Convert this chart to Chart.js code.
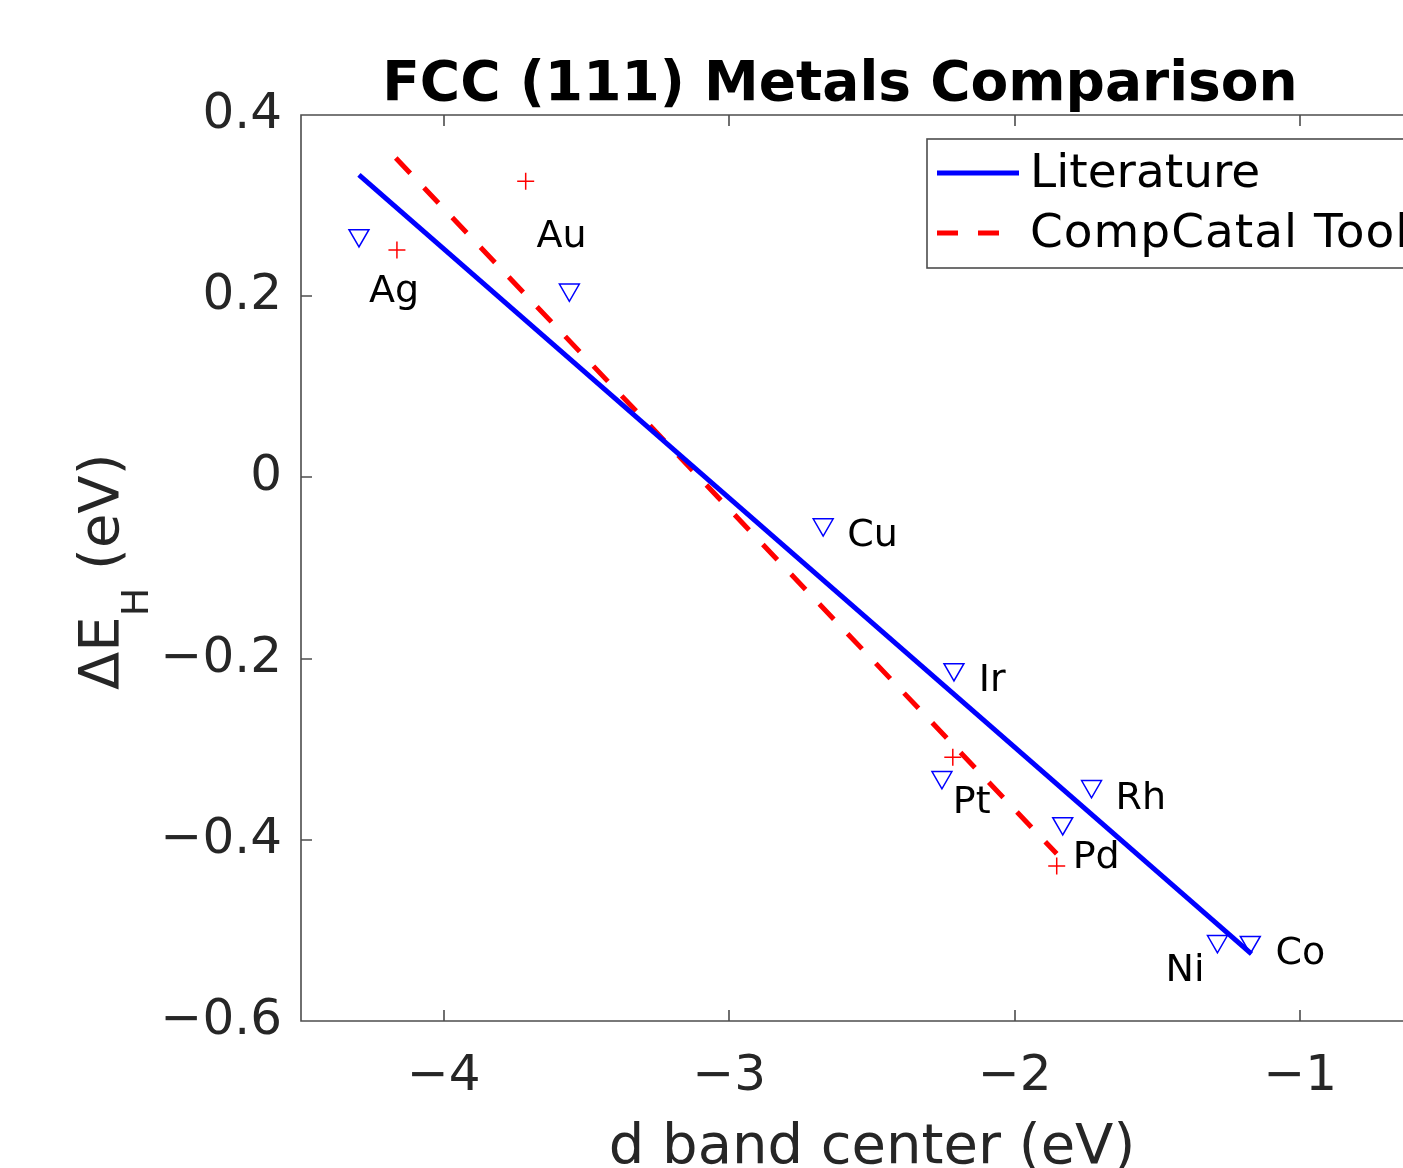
<!DOCTYPE html>
<html>
<head>
<meta charset="utf-8">
<script src="https://cdn.jsdelivr.net/npm/chart.js@4.4.0/dist/chart.umd.min.js"></script>
<style>
html, body { margin: 0; padding: 0; overflow: hidden; background: #fff; width: 1403px; height: 1168px; }
canvas { display: block; }
</style>
</head>
<body>
<canvas id="c" width="1500" height="1168"></canvas>
<script>
// ---- data ----
const metals = ['Ag', 'Au', 'Cu', 'Ir', 'Pt', 'Rh', 'Pd', 'Ni', 'Co'];
const litX = [-4.297, -3.560, -2.671, -2.213, -2.255, -1.731, -1.832, -1.290, -1.175];
const litY = [0.267, 0.207, -0.052, -0.212, -0.331, -0.341, -0.382, -0.512, -0.513];

const compMetals = ['Ag', 'Au', 'Pt', 'Pd'];
const compX = [-4.164, -3.713, -2.217, -1.853];
const compY = [0.251, 0.327, -0.309, -0.429];

const litFitX = [-4.297, -1.171];
const litFitY = [0.334, -0.526];
const compFitX = [-4.168, -1.853];
const compFitY = [0.3525, -0.4155];

// text label anchors (data coordinates, left / middle)
const labelX = [-4.262, -3.675, -2.587, -2.126, -2.217, -1.647, -1.797, -1.472, -1.087];
const labelY = [0.2044, 0.265, -0.065, -0.225, -0.359, -0.355, -0.420, -0.545, -0.526];

const xTicks = [-4, -3, -2, -1];
const xTickLabels = ['\u22124', '\u22123', '\u22122', '\u22121'];
const yTicks = [-0.6, -0.4, -0.2, 0, 0.2, 0.4];
const yTickLabels = ['\u22120.6', '\u22120.4', '\u22120.2', '0', '0.2', '0.4'];

const titleText = 'FCC (111) Metals Comparison';
const xTitle = 'd band center (eV)';
const legendLabels = ['Literature', 'CompCatal Tool'];

const FONT = '"DejaVu Sans", sans-serif';
const AXIS_COLOR = '#4d4d4d';
const zip = (xs, ys) => xs.map((x, i) => ({ x: x, y: ys[i] }));

const frame = {
  id: 'frame',
  afterDatasetsDraw(chart) {
    const ctx = chart.ctx;
    const xs = chart.scales.x, ys = chart.scales.y;
    const a = chart.chartArea;
    ctx.save();
    // point labels
    ctx.fillStyle = '#000';
    ctx.font = '38px ' + FONT;
    ctx.textAlign = 'left';
    ctx.textBaseline = 'middle';
    metals.forEach((m, i) => {
      ctx.fillText(m, xs.getPixelForValue(labelX[i]), ys.getPixelForValue(labelY[i]));
    });
    // axes box and inward ticks
    ctx.strokeStyle = AXIS_COLOR;
    ctx.lineWidth = 1.6;
    ctx.beginPath();
    ctx.rect(a.left, a.top, a.right - a.left, a.bottom - a.top);
    const tl = 11;
    xTicks.forEach(v => {
      const p = Math.round(xs.getPixelForValue(v));
      ctx.moveTo(p, a.bottom); ctx.lineTo(p, a.bottom - tl);
      ctx.moveTo(p, a.top); ctx.lineTo(p, a.top + tl);
    });
    yTicks.forEach(v => {
      const p = Math.round(ys.getPixelForValue(v));
      ctx.moveTo(a.left, p); ctx.lineTo(a.left + tl, p);
      ctx.moveTo(a.right, p); ctx.lineTo(a.right - tl, p);
    });
    ctx.stroke();
    ctx.restore();
  },
  afterDraw(chart) {
    const ctx = chart.ctx;
    ctx.save();
    // title
    ctx.fillStyle = '#000';
    ctx.font = 'bold 55px ' + FONT;
    ctx.textAlign = 'center';
    ctx.textBaseline = 'alphabetic';
    ctx.fillText(titleText, 840, 100);
    // x title
    ctx.fillStyle = '#262626';
    ctx.font = '56px ' + FONT;
    ctx.fillText(xTitle, 872, 1163);
    // y title with subscript
    ctx.translate(118, 690);
    ctx.rotate(-Math.PI / 2);
    ctx.textAlign = 'left';
    ctx.font = '56px ' + FONT;
    let w = 0;
    ctx.fillText('\u0394E', 0, 0);
    w += ctx.measureText('\u0394E').width;
    ctx.font = '38px ' + FONT;
    ctx.fillText('H', w, 30);
    w += ctx.measureText('H').width;
    ctx.font = '56px ' + FONT;
    ctx.fillText(' (eV)', w, 0);
    ctx.restore();

    // legend
    ctx.save();
    ctx.fillStyle = '#fff';
    ctx.strokeStyle = AXIS_COLOR;
    ctx.lineWidth = 1.6;
    ctx.fillRect(927, 139, 600, 129);
    ctx.strokeRect(927, 139, 600, 129);
    const rows = [173, 233];
    const spacing = ['0px', '1px'];
    [0, 1].forEach(i => {
      const ds = chart.data.datasets[i];
      ctx.beginPath();
      ctx.strokeStyle = ds.borderColor;
      ctx.lineWidth = ds.borderWidth;
      ctx.setLineDash(ds.borderDash || []);
      ctx.moveTo(937, rows[i]);
      ctx.lineTo(1019, rows[i]);
      ctx.stroke();
      ctx.setLineDash([]);
      ctx.fillStyle = '#000';
      ctx.font = '47px ' + FONT;
      ctx.textAlign = 'left';
      ctx.textBaseline = 'middle';
      ctx.letterSpacing = spacing[i];
      ctx.fillText(legendLabels[i], 1030, rows[i] + 2);
    });
    ctx.restore();
  }
};

new Chart(document.getElementById('c'), {
  type: 'scatter',
  data: {
    datasets: [
      { label: legendLabels[0], data: zip(litFitX, litFitY), showLine: true, borderColor: '#0000ff', borderWidth: 5, pointRadius: 0, fill: false },
      { label: legendLabels[1], data: zip(compFitX, compFitY), showLine: true, borderColor: '#ff0000', borderWidth: 5, borderDash: [21, 20], pointRadius: 0, fill: false },
      { label: 'lit pts', data: zip(litX, litY), pointStyle: 'triangle', rotation: 180, pointRadius: 11.5, borderColor: '#0000ff', backgroundColor: 'rgba(0,0,0,0)', borderWidth: 1.5 },
      { label: 'comp pts', data: zip(compX, compY), pointStyle: 'cross', pointRadius: 8.5, borderColor: '#ff0000', backgroundColor: 'rgba(0,0,0,0)', borderWidth: 1.5 }
    ]
  },
  options: {
    responsive: false,
    animation: false,
    layout: { padding: { left: 0, top: 115, right: 57, bottom: 0 } },
    plugins: { legend: { display: false }, title: { display: false }, tooltip: { enabled: false } },
    scales: {
      x: {
        type: 'linear', min: -4.5, max: -0.5,
        grid: { display: false, drawTicks: false },
        border: { display: false },
        afterBuildTicks: s => { s.ticks = xTicks.map(v => ({ value: v })); },
        afterFit: s => { s.height = 147; },
        ticks: { font: { family: FONT, size: 50 }, color: '#262626', padding: 26,
          callback: (v) => xTickLabels[xTicks.indexOf(v)] }
      },
      y: {
        type: 'linear', min: -0.6, max: 0.4,
        grid: { display: false, drawTicks: false },
        border: { display: false },
        afterBuildTicks: s => { s.ticks = yTicks.map(v => ({ value: v })); },
        afterFit: s => { s.width = 301; },
        ticks: { font: { family: FONT, size: 50 }, color: '#262626', padding: 19,
          callback: (v) => yTickLabels[yTicks.indexOf(v)] }
      }
    }
  },
  plugins: [frame]
});
</script>
</body>
</html>
